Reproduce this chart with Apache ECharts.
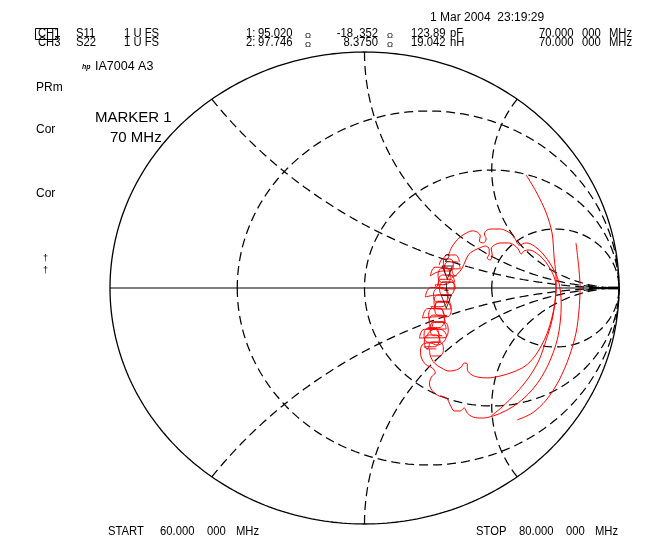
<!DOCTYPE html>
<html><head><meta charset="utf-8">
<style>html,body{margin:0;padding:0;background:#fff;}#c{width:645px;height:539px;}</style>
<script src="https://cdn.jsdelivr.net/npm/echarts@6/dist/echarts.min.js"></script>
</head><body><div id="c"></div>
<script>
// ---- graticule values (Smith chart) ----
const rCircles = [1/3, 1, 3];
const xArcs = [0.5, 1, 2];
const Z0 = 50;
// ---- markers (from the header readout) ----
const markerNames = ['1', '2'];
const markerR = [95.020, 97.746];
const markerX = [-18.352, 8.3750];
const refMarks = [[0.898, 0], [0.976, 0]];
// ---- traces, read as reflection coefficient [re, im] ----
const traceA = [[0.635,0.479],[0.675,0.407],[0.714,0.318],[0.737,0.233],[0.745,0.131],[0.753,0.034],[0.749,-0.051],[0.737,-0.136],[0.714,-0.220],[0.686,-0.305],[0.647,-0.377],[0.596,-0.445],[0.541,-0.504],[0.498,-0.542]];
const traceB = [[0.831,0.191],[0.843,0.076],[0.847,0],[0.843,-0.093],[0.831,-0.191],[0.804,-0.292],[0.765,-0.390],[0.714,-0.475],[0.659,-0.530],[0.600,-0.559]];
const outerCloud = [[0.329,0.136],[0.341,0.169],[0.357,0.195],[0.376,0.216],[0.400,0.233],[0.424,0.242],[0.443,0.237],[0.455,0.220],[0.451,0.199],[0.467,0.191],[0.478,0.208],[0.471,0.229],[0.482,0.246],[0.506,0.250],[0.533,0.250],[0.557,0.242],[0.576,0.229],[0.592,0.208],[0.608,0.182],[0.635,0.191],[0.667,0.178],[0.702,0.144],[0.733,0.097],[0.757,0.047],[0.769,-0.008],[0.773,-0.072],[0.769,-0.144],[0.757,-0.220],[0.733,-0.297],[0.698,-0.373],[0.655,-0.436],[0.604,-0.487],[0.553,-0.521],[0.506,-0.542],[0.463,-0.551],[0.427,-0.547],[0.404,-0.530],[0.392,-0.508],[0.376,-0.521],[0.353,-0.521],[0.337,-0.496],[0.322,-0.466],[0.294,-0.458],[0.271,-0.441],[0.255,-0.407],[0.263,-0.377],[0.278,-0.360],[0.267,-0.339],[0.243,-0.326],[0.224,-0.297],[0.220,-0.263],[0.231,-0.237],[0.259,-0.233],[0.286,-0.242],[0.310,-0.229],[0.322,-0.203],[0.306,-0.178],[0.278,-0.174],[0.255,-0.186],[0.243,-0.212]];
const innerCloud = [[0.341,0.042],[0.365,0.059],[0.384,0.085],[0.396,0.114],[0.408,0.140],[0.427,0.157],[0.451,0.169],[0.475,0.178],[0.490,0.165],[0.490,0.144],[0.482,0.127],[0.494,0.119],[0.502,0.140],[0.498,0.165],[0.510,0.182],[0.537,0.191],[0.565,0.191],[0.588,0.182],[0.604,0.165],[0.616,0.144],[0.627,0.157],[0.647,0.161],[0.675,0.148],[0.702,0.123],[0.725,0.089],[0.745,0.047],[0.753,-0.004],[0.749,-0.059],[0.737,-0.123],[0.718,-0.191],[0.694,-0.246],[0.667,-0.292],[0.631,-0.331],[0.584,-0.356],[0.533,-0.373],[0.482,-0.381],[0.443,-0.377],[0.416,-0.364],[0.404,-0.343],[0.404,-0.322],[0.392,-0.318],[0.380,-0.335],[0.361,-0.347],[0.333,-0.352],[0.302,-0.339],[0.275,-0.318],[0.259,-0.288],[0.255,-0.258]];
const loops11 = [
 [0.373,0.110],[0.357,0.140],[0.326,0.140],[0.310,0.110],[0.326,0.081],[0.357,0.081],
 [0.376,0.082],[0.361,0.111],[0.329,0.111],[0.314,0.082],[0.329,0.052],[0.361,0.052],
 [0.352,0.054],[0.336,0.083],[0.305,0.083],[0.289,0.054],[0.305,0.024],[0.336,0.024],
 [0.354,0.025],[0.338,0.055],[0.307,0.055],[0.291,0.025],[0.307,-0.004],[0.338,-0.004],
 [0.358,-0.003],[0.342,0.026],[0.311,0.026],[0.295,-0.003],[0.311,-0.032],[0.342,-0.032],
 [0.334,-0.031],[0.318,-0.002],[0.287,-0.002],[0.271,-0.031],[0.287,-0.060],[0.318,-0.060],
 [0.335,-0.059],[0.320,-0.030],[0.288,-0.030],[0.273,-0.059],[0.288,-0.089],[0.320,-0.089],
 [0.339,-0.088],[0.323,-0.058],[0.292,-0.058],[0.276,-0.088],[0.292,-0.117],[0.323,-0.117],
 [0.315,-0.116],[0.300,-0.086],[0.268,-0.086],[0.252,-0.116],[0.268,-0.145],[0.300,-0.145],
 [0.317,-0.144],[0.301,-0.115],[0.270,-0.115],[0.254,-0.144],[0.270,-0.174],[0.301,-0.174],
 [0.321,-0.173],[0.305,-0.143],[0.274,-0.143],[0.258,-0.173],[0.274,-0.202],[0.305,-0.202],
 [0.296,-0.200],[0.281,-0.171],[0.249,-0.171],[0.234,-0.200],[0.249,-0.230],[0.281,-0.230],
 [0.298,-0.229],[0.282,-0.199],[0.251,-0.199],[0.235,-0.229],[0.251,-0.258],[0.282,-0.258]];
const loops22 = [
 [0.294,0.098],[0.308,0.123],[0.335,0.123],[0.349,0.098],[0.335,0.072],[0.308,0.072],
 [0.259,0.051],[0.278,0.088],[0.318,0.088],[0.337,0.051],[0.318,0.014],[0.278,0.014],
 [0.282,0.004],[0.300,0.037],[0.335,0.037],[0.353,0.004],[0.335,-0.029],[0.300,-0.029],
 [0.239,-0.038],[0.261,0.002],[0.304,0.002],[0.326,-0.038],[0.304,-0.079],[0.261,-0.079],
 [0.271,-0.089],[0.288,-0.056],[0.324,-0.056],[0.341,-0.089],[0.324,-0.122],[0.288,-0.122],
 [0.228,-0.127],[0.249,-0.087],[0.292,-0.087],[0.314,-0.127],[0.292,-0.168],[0.249,-0.168],
 [0.259,-0.178],[0.276,-0.145],[0.312,-0.145],[0.329,-0.178],[0.312,-0.211],[0.276,-0.211],
 [0.216,-0.212],[0.235,-0.175],[0.274,-0.175],[0.294,-0.212],[0.274,-0.249],[0.235,-0.249],
 [0.247,-0.259],[0.263,-0.229],[0.294,-0.229],[0.310,-0.259],[0.294,-0.288],[0.263,-0.288]];

// ---- graticule geometry ----
function arcPts(cx, cy, rad, a0, a1, n) {
  const p = [];
  for (let i = 0; i <= n; i++) { const t = a0 + (a1 - a0) * i / n; p.push([cx + rad * Math.cos(t), cy + rad * Math.sin(t)]); }
  return p;
}
const outer = arcPts(0, 0, 1, 0, 2 * Math.PI, 360);
const rLines = rCircles.map(r => arcPts(r / (r + 1), 0, 1 / (r + 1), Math.PI, 3 * Math.PI, 240));
const xLines = [];
xArcs.forEach(x => {
  const ex = (x * x - 1) / (x * x + 1), ey = 2 * x / (x * x + 1);
  let te = Math.atan2(ey - 1 / x, ex - 1);
  if (te > -Math.PI / 2) te -= 2 * Math.PI;
  const pts = arcPts(1, 1 / x, 1 / x, te, -Math.PI / 2, 200);
  xLines.push(pts);
  xLines.push(pts.map(p => [p[0], -p[1]]));
});
const markerData = markerR.map((R, i) => {
  const zr = R / Z0, zi = markerX[i] / Z0;
  const d = (zr + 1) * (zr + 1) + zi * zi;
  return { name: markerNames[i], value: [((zr - 1) * (zr + 1) + zi * zi) / d, 2 * zi / d] };
});

const black = '#000', red = '#ff0000';
const dash = { color: black, width: 1.25, type: [9, 5] };
function line(data, style, smooth, z) {
  return { type: 'line', data, symbol: 'none', showSymbol: false, clip: false, silent: true, animation: false,
    smooth: smooth || false, lineStyle: style, z: z || 2 };
}
const series = [];
series.push(line(outer, { color: black, width: 1.3 }));
series.push(line([[-1, 0], [1, 0]], { color: black, width: 1.2 }));
rLines.forEach(p => series.push(line(p, dash)));
xLines.forEach(p => series.push(line(p, dash)));
const redStyle = { color: red, width: 1 };
[traceA, traceB].forEach(t => series.push(line(t, redStyle, 0.3, 4)));
[outerCloud, innerCloud].forEach(t => series.push(line(t, redStyle, 0.35, 4)));
[loops11, loops22].forEach(t => series.push(line(t, redStyle, 0.5, 4)));
series.push({ type: 'scatter', data: markerData, symbol: 'path://M0 0L10 0L5 13Z', symbolSize: [10, 13],
  symbolOffset: [0, -6.5], silent: true, animation: false, z: 10,
  itemStyle: { color: 'rgba(255,255,255,0)', borderColor: black, borderWidth: 1 },
  label: { show: true, formatter: p => p.name, position: 'top', distance: 1, color: black, fontSize: 10, fontFamily: 'Liberation Sans' } });
series.push({ type: 'scatter', data: [refMarks[0]], symbol: 'path://M0 0L12 4L0 8L3 4Z', symbolSize: [14, 8],
  silent: true, animation: false, z: 10, itemStyle: { color: black } });
series.push({ type: 'scatter', data: [refMarks[1]], symbol: 'rect', symbolSize: [10, 3],
  silent: true, animation: false, z: 10, itemStyle: { color: black } });

// ---- text ----
const F = '"Liberation Sans", Arial, sans-serif';
function T(x, y, text, size, extra, sx) {
  return { type: 'text', x, y, scaleX: sx || 1, silent: true, z: 20,
    style: Object.assign({ text, fill: black, font: size + 'px ' + F, textAlign: 'left', align: 'left',
      textVerticalAlign: 'middle', verticalAlign: 'middle' }, extra || {}) };
}
const R = { textAlign: 'right', align: 'right' };
const hs = 12.5, sx = 0.9, om = 8;
const g = [];
g.push(T(430, 18, '1 Mar 2004  23:19:29', 12));
[[34, 'CH1', 'S11', '1:', '95.020', '-18 .352', '123.89', 'pF'], [43, 'CH3', 'S22', '2:', '97.746', '8.3750', '19.042', 'nH']].forEach(r => {
  const y = r[0];
  g.push(T(38, y, r[1], hs, null, sx));
  g.push(T(76, y, r[2], hs, null, sx));
  g.push(T(124, y, '1 U FS', hs, null, sx));
  g.push(T(246, y, r[3], hs, null, sx));
  g.push(T(258, y, r[4], hs, null, sx));
  g.push(T(305, y + 2, 'Ω', om));
  g.push(T(378, y, r[5], hs, R, sx));
  g.push(T(387, y + 2, 'Ω', om));
  g.push(T(411, y, r[6], hs, null, sx));
  g.push(T(450, y, r[7], hs, null, sx));
  g.push(T(539, y, '70.000', hs, null, sx));
  g.push(T(582, y, '000', hs, null, sx));
  g.push(T(609, y, 'MHz', hs, null, sx));
});
g.push({ type: 'rect', silent: true, z: 20, shape: { x: 35.5, y: 28.5, width: 22, height: 11 }, style: { fill: 'none', stroke: black, lineWidth: 1 } });
g.push(T(82, 67, 'hp', 7, { font: 'italic bold 7px ' + F }));
g.push(T(95, 67, 'IA7004 A3', 12.5));
g.push(T(36, 88, 'PRm', 12));
g.push(T(36, 130, 'Cor', 12));
g.push(T(36, 194, 'Cor', 12));
g.push(T(43, 259, '†', 9));
g.push(T(43, 271, '†', 9));
g.push(T(95, 118, 'MARKER 1', 15));
g.push(T(110, 138, '70 MHz', 15));
g.push(T(108, 532, 'START', hs, null, sx));
g.push(T(160, 532, '60.000', hs, null, sx));
g.push(T(207, 532, '000', hs, null, sx));
g.push(T(236, 532, 'MHz', hs, null, sx));
g.push(T(476, 532, 'STOP', hs, null, sx));
g.push(T(519, 532, '80.000', hs, null, sx));
g.push(T(566, 532, '000', hs, null, sx));
g.push(T(595, 532, 'MHz', hs, null, sx));

const chart = echarts.init(document.getElementById('c'), null, { renderer: 'canvas' });
chart.setOption({
  animation: false,
  backgroundColor: '#fff',
  grid: { left: 110, right: 26, top: 52, bottom: 15, containLabel: false },
  xAxis: { type: 'value', min: -1, max: 1, show: false },
  yAxis: { type: 'value', min: -1, max: 1, show: false },
  series,
  graphic: { elements: g }
});
</script></body></html>
